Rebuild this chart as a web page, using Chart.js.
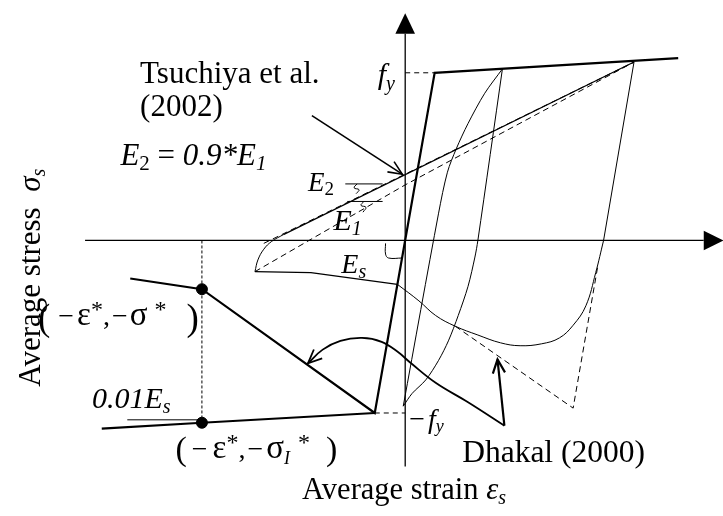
<!doctype html>
<html lang="en">
<head>
<meta charset="utf-8" />
<title>Steel stress-strain model</title>
<script src="https://cdn.jsdelivr.net/npm/chart.js"></script>
<style>
  html, body { margin: 0; padding: 0; background: #fff; }
  .wrap { width: 723px; height: 516px; position: relative; }
</style>
</head>
<body>
<div class="wrap"><canvas id="chart"></canvas></div>
<script>
// strain / stress in drawing units, origin at the axis crossing (fy = 172)
const skeletonX = [-280, -207, -31, 30, 278];
const skeletonY = [-39, -50, -177, 172, 187];
const plateauX = [-309, -207, -31];
const plateauY = [-193, -187, -177];
const slopeRefX = [-283, -207];
const slopeRefY = [-184, -184];

const loopAUnloadX = [99, 74, 71, 64, 54, 44, 34, 21, 7, -2];
const loopAUnloadY = [176, 0, -17, -47, -77, -103, -123, -143, -157, -170];
const loopAReloadX = [-2, 34, 43, 52, 64, 81, 99];
const loopAReloadY = [-170, 28, 70, 94, 120, 151, 176];

const loopBUnloadX = [233, 202];
const loopBUnloadY = [183, 0];
const loopBCurveX = [202, 194, 184, 171, 157, 139, 117, 97, 74, 51, 31, 14, -8];
const loopBCurveY = [0, -33, -67, -87, -100, -106, -108, -105, -97, -88, -77, -62, -45];
const esLineX = [-8, -96, -153];
const esLineY = [-45, -33, -32];
const reloadCornerX = [-153, -150, -144, -136, -124];
const reloadCornerY = [-32, -20, -9, -1, 6];
const reloadLineX = [-124, 233];
const reloadLineY = [6, 183];

const tsuchiyaE2X = [-144, 233];
const tsuchiyaE2Y = [-3, 183];
const tsuchiyaE1X = [-153, 0, 233];
const tsuchiyaE1Y = [-32, 57, 183];
const dhakalX = [51, 171, 196];
const dhakalY = [-88, -172, -27];

const fyX = [0, 30], fyY = [172, 172];
const negFyX = [-31, 0], negFyY = [-177, -177];
const strainStarX = [-207, -207], strainStarY = [0, -187];
const starPointsX = [-207, -207], starPointsY = [-50, -187];

const arrowTsuchiyaX = [-95, -3], arrowTsuchiyaY = [128, 68];
const arrowDhakalX = [101, 94], arrowDhakalY = [-190, -122];
const arrowCurveX = [101, 64, 31, 6, -8, -24, -44, -66, -84, -99];
const arrowCurveY = [-190, -166, -146, -126, -114, -104, -100, -103, -112, -126];

const tickE2X = [-61, -23], tickE2Y = [58, 58];
const braceE2X = [-49, -52, -47, -50], braceE2Y = [58, 54, 52, 48];
const tickE1X = [-59, -23], tickE1Y = [40, 40];
const braceE1X = [-42, -45, -40, -43], braceE1Y = [40, 36, 34, 29];
const braceEsX = [-20, -20, -17, -3], braceEsY = [-3, -14, -18, -18];

const xAxisX = [-326, 304], xAxisY = [0, 0];
const yAxisX = [0, 0], yAxisY = [212, -232];

const FONT = '"Liberation Serif", "Times New Roman", serif';

// text runs: t text, s size, i italic, dy baseline shift, dx gap before
const labels = [
  { x: -270, y: 162, runs: [{ t: 'Tsuchiya et al.', s: 31 }] },
  { x: -270, y: 128, runs: [{ t: '(2002)', s: 31 }] },
  { x: -290, y: 77, runs: [{ t: 'E', s: 31, i: 1 }, { t: '2', s: 21, dy: 5 }, { t: ' = ', s: 31 }, { t: '0.9*E', s: 31, i: 1 }, { t: '1', s: 21, i: 1, dy: 5 }] },
  { x: -28, y: 160, runs: [{ t: 'f', s: 30, i: 1 }, { t: 'y', s: 20, i: 1, dy: 6 }] },
  { x: -99, y: 51, runs: [{ t: 'E', s: 27, i: 1 }, { t: '2', s: 19, dy: 4 }] },
  { x: -73, y: 11, runs: [{ t: 'E', s: 30, i: 1 }, { t: '1', s: 20, i: 1, dy: 5 }] },
  { x: -65, y: -33, runs: [{ t: 'E', s: 28, i: 1 }, { t: 's', s: 20, i: 1, dy: 5 }] },
  { x: -374, y: -87, runs: [{ t: '(', s: 37, dy: 5 }, { t: '−', s: 28, dx: 8 }, { t: 'ε', s: 33, dx: 3 }, { t: '*', s: 24, dy: -8 }, { t: ',', s: 28 }, { t: '−', s: 28, dx: 2 }, { t: 'σ', s: 33, dx: 2 }, { t: '*', s: 24, dy: -8, dx: 7 }, { t: ')', s: 37, dy: 5, dx: 20 }] },
  { x: -319, y: -172, runs: [{ t: '0.01E', s: 30, i: 1 }, { t: 's', s: 20, i: 1, dy: 5 }] },
  { x: -234, y: -223, runs: [{ t: '(', s: 34, dy: 2 }, { t: '−', s: 28, dx: 5 }, { t: 'ε', s: 33, dx: 5 }, { t: '*', s: 24, dy: -8 }, { t: ',', s: 28 }, { t: '−', s: 28, dx: 2 }, { t: 'σ', s: 33, dx: 3 }, { t: 'I', s: 18, i: 1, dy: 6 }, { t: '*', s: 24, dy: -8, dx: 8 }, { t: ')', s: 34, dy: 2, dx: 16 }] },
  { x: 4, y: -192, runs: [{ t: '−', s: 28 }, { t: 'f', s: 28, i: 1, dx: 3 }, { t: 'y', s: 18, i: 1, dy: 4 }] },
  { x: 58, y: -227, runs: [{ t: 'Dhakal (2000)', s: 31.5 }] },
  { x: -105, y: -265, runs: [{ t: 'Average strain ', s: 30.5 }, { t: 'ε', s: 30.5, i: 1 }, { t: 's', s: 20, i: 1, dy: 5 }] },
  { x: -372, y: -150, rot: true, runs: [{ t: 'Average stress  ', s: 31 }, { t: 'σ', s: 31, i: 1 }, { t: 's', s: 20, i: 1, dy: 5 }] }
];

function pts(xs, ys) { return xs.map((x, k) => ({ x, y: ys[k] })); }

function line(xs, ys, width, extra) {
  return Object.assign({
    data: pts(xs, ys), showLine: true, borderColor: '#000', borderWidth: width,
    pointRadius: 0, fill: false, tension: 0
  }, extra || {});
}

const datasets = [
  line(xAxisX, xAxisY, 1.3),
  line(yAxisX, yAxisY, 1.3),
  line(skeletonX, skeletonY, 2.2),
  line(plateauX, plateauY, 2.2),
  line(slopeRefX, slopeRefY, 1),
  line(loopAUnloadX, loopAUnloadY, 1, { tension: 0.3 }),
  line(loopAReloadX, loopAReloadY, 1, { tension: 0.3 }),
  line(loopBUnloadX, loopBUnloadY, 1),
  line(loopBCurveX, loopBCurveY, 1, { tension: 0.4 }),
  line(esLineX, esLineY, 1.2),
  line(reloadCornerX, reloadCornerY, 1, { tension: 0.4 }),
  line(reloadLineX, reloadLineY, 1.2),
  line(tsuchiyaE2X, tsuchiyaE2Y, 1, { borderDash: [6, 4] }),
  line(tsuchiyaE1X, tsuchiyaE1Y, 1, { borderDash: [6, 4] }),
  line(dhakalX, dhakalY, 1, { borderDash: [6, 4] }),
  line(fyX, fyY, 1, { borderDash: [5, 4] }),
  line(negFyX, negFyY, 1, { borderDash: [5, 4] }),
  line(strainStarX, strainStarY, 1, { borderDash: [3, 2] }),
  line(arrowTsuchiyaX, arrowTsuchiyaY, 1.6, { arrow: true }),
  line(arrowDhakalX, arrowDhakalY, 2.2, { arrow: true }),
  line(arrowCurveX, arrowCurveY, 1.8, { tension: 0.4, arrow: true }),
  line(tickE2X, tickE2Y, 1),
  line(braceE2X, braceE2Y, 1, { tension: 0.5 }),
  line(tickE1X, tickE1Y, 1),
  line(braceE1X, braceE1Y, 1, { tension: 0.5 }),
  line(braceEsX, braceEsY, 1, { tension: 0.4 }),
  { data: pts(starPointsX, starPointsY), showLine: false, pointRadius: 5.5,
    pointBackgroundColor: '#000', pointBorderColor: '#000' }
];

function drawRuns(ctx, runs) {
  let cx = 0;
  for (const r of runs) {
    cx += r.dx || 0;
    ctx.font = (r.i ? 'italic ' : '') + r.s + 'px ' + FONT;
    ctx.fillText(r.t, cx, r.dy || 0);
    cx += ctx.measureText(r.t).width;
  }
}

const decorations = {
  id: 'decorations',
  afterDatasetsDraw(chart) {
    const ctx = chart.ctx;
    const sx = chart.scales.x, sy = chart.scales.y;
    const P = (x, y) => [sx.getPixelForValue(x), sy.getPixelForValue(y)];
    ctx.save();
    ctx.fillStyle = '#000';
    ctx.strokeStyle = '#000';

    // axis arrow heads
    const tri = (a, b, c) => {
      ctx.beginPath();
      ctx.moveTo(...P(...a)); ctx.lineTo(...P(...b)); ctx.lineTo(...P(...c));
      ctx.closePath(); ctx.fill();
    };
    tri([0, 233], [-10, 212], [10, 212]);
    tri([324, 0], [304, 10], [304, -10]);

    // open arrow heads on pointer lines
    chart.data.datasets.forEach(ds => {
      if (!ds.arrow) return;
      const n = ds.data.length;
      const [x1, y1] = P(ds.data[n - 2].x, ds.data[n - 2].y);
      const [x2, y2] = P(ds.data[n - 1].x, ds.data[n - 1].y);
      const ang = Math.atan2(y2 - y1, x2 - x1);
      const len = 15, spread = 0.42;
      ctx.lineWidth = ds.borderWidth;
      ctx.beginPath();
      ctx.moveTo(x2 - len * Math.cos(ang - spread), y2 - len * Math.sin(ang - spread));
      ctx.lineTo(x2, y2);
      ctx.lineTo(x2 - len * Math.cos(ang + spread), y2 - len * Math.sin(ang + spread));
      ctx.stroke();
    });

    // labels
    ctx.textBaseline = 'alphabetic';
    ctx.textAlign = 'left';
    for (const l of labels) {
      const [px, py] = P(l.x, l.y);
      ctx.save();
      ctx.translate(px, py);
      if (l.rot) ctx.rotate(-Math.PI / 2);
      drawRuns(ctx, l.runs);
      ctx.restore();
    }
    ctx.restore();
  }
};

new Chart(document.getElementById('chart'), {
  type: 'scatter',
  data: { datasets },
  options: {
    responsive: true,
    maintainAspectRatio: false,
    animation: false,
    layout: { padding: 0 },
    plugins: { legend: { display: false }, tooltip: { enabled: false } },
    scales: {
      x: { type: 'linear', min: -406, max: 317, display: false },
      y: { type: 'linear', min: -276, max: 240, display: false }
    }
  },
  plugins: [decorations]
});
</script>
</body>
</html>
